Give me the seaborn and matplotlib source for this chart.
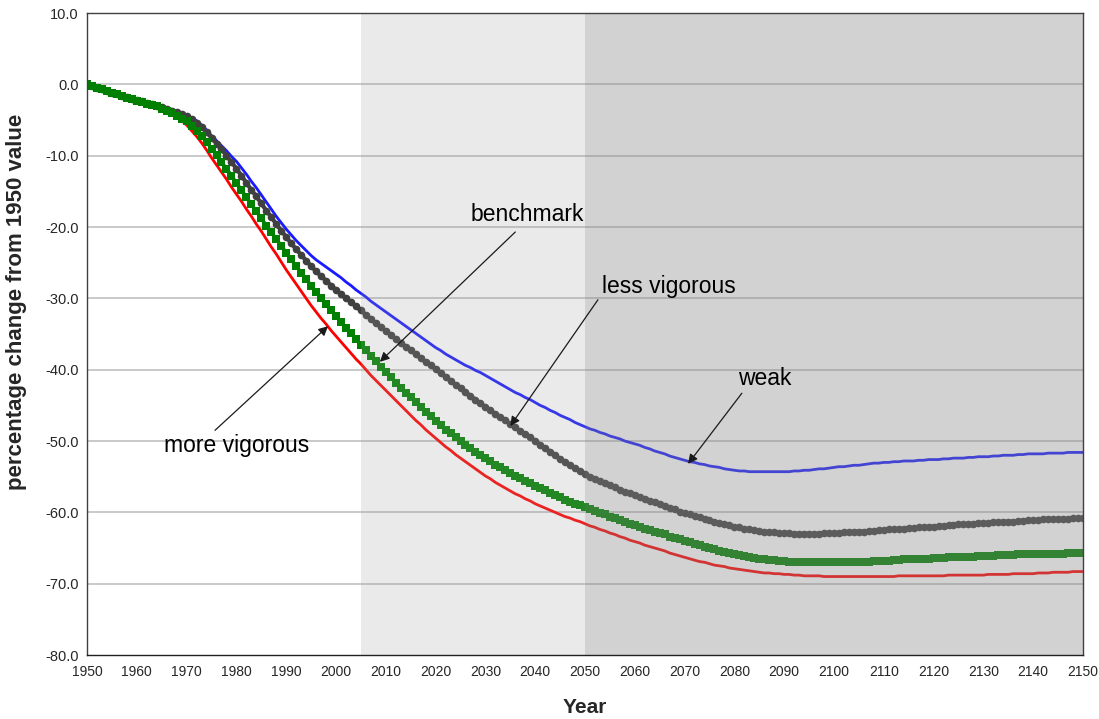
import numpy as np
import pandas as pd
import matplotlib
matplotlib.use('Agg')
import matplotlib.pyplot as plt
import seaborn as sns

# years 1950..2150, one value per year
years = list(range(1950, 2151))

# percentage change from 1950 value
more_vigorous = [
    0.0, -0.2, -0.5, -0.7, -1.0, -1.2, -1.4, -1.6, -1.9, -2.1,
    -2.3, -2.5, -2.7, -2.9, -3.2, -3.5, -3.8, -4.2, -4.6, -5.1,
    -5.7, -6.5, -7.3, -8.2, -9.2, -10.3, -11.3, -12.3, -13.3, -14.4,
    -15.4, -16.4, -17.5, -18.5, -19.6, -20.6, -21.7, -22.8, -23.8, -24.9,
    -26.0, -27.0, -28.0, -29.0, -30.0, -31.0, -31.9, -32.8, -33.6, -34.5,
    -35.3, -36.1, -36.9, -37.7, -38.5, -39.2, -40.0, -40.8, -41.5, -42.2,
    -42.9, -43.6, -44.3, -45.0, -45.7, -46.4, -47.1, -47.7, -48.4, -49.0,
    -49.6, -50.2, -50.8, -51.3, -51.9, -52.4, -52.9, -53.4, -53.9, -54.4,
    -54.9, -55.3, -55.8, -56.2, -56.6, -57.0, -57.4, -57.7, -58.1, -58.4,
    -58.8, -59.1, -59.4, -59.7, -60.0, -60.3, -60.6, -60.8, -61.1, -61.3,
    -61.6, -61.9, -62.1, -62.4, -62.6, -62.9, -63.1, -63.4, -63.6, -63.9,
    -64.1, -64.3, -64.6, -64.8, -65.0, -65.2, -65.4, -65.7, -65.9, -66.1,
    -66.3, -66.5, -66.7, -66.9, -67.0, -67.2, -67.4, -67.5, -67.6, -67.8,
    -67.9, -68.0, -68.1, -68.2, -68.3, -68.4, -68.5, -68.5, -68.6, -68.6,
    -68.7, -68.7, -68.8, -68.8, -68.9, -68.9, -68.9, -68.9, -69.0, -69.0,
    -69.0, -69.0, -69.0, -69.0, -69.0, -69.0, -69.0, -69.0, -69.0, -69.0,
    -69.0, -69.0, -69.0, -68.9, -68.9, -68.9, -68.9, -68.9, -68.9, -68.9,
    -68.9, -68.9, -68.9, -68.8, -68.8, -68.8, -68.8, -68.8, -68.8, -68.8,
    -68.8, -68.7, -68.7, -68.7, -68.7, -68.7, -68.6, -68.6, -68.6, -68.6,
    -68.6, -68.5, -68.5, -68.5, -68.4, -68.4, -68.4, -68.4, -68.3, -68.3,
    -68.3,
]

benchmark = [
    0.0, -0.2, -0.5, -0.7, -1.0, -1.2, -1.4, -1.6, -1.9, -2.1,
    -2.3, -2.5, -2.7, -2.9, -3.1, -3.4, -3.7, -4.0, -4.4, -4.8,
    -5.2, -5.8, -6.5, -7.3, -8.1, -9.0, -9.9, -10.9, -11.8, -12.8,
    -13.8, -14.8, -15.8, -16.8, -17.8, -18.8, -19.8, -20.7, -21.7, -22.6,
    -23.6, -24.5, -25.5, -26.4, -27.3, -28.2, -29.1, -29.9, -30.8, -31.6,
    -32.5, -33.3, -34.1, -34.9, -35.7, -36.5, -37.3, -38.1, -38.8, -39.6,
    -40.3, -41.0, -41.8, -42.5, -43.2, -43.9, -44.6, -45.2, -45.9, -46.5,
    -47.2, -47.8, -48.4, -48.9, -49.5, -50.0, -50.5, -51.0, -51.5, -51.9,
    -52.4, -52.8, -53.3, -53.7, -54.1, -54.5, -54.9, -55.2, -55.6, -55.9,
    -56.3, -56.6, -56.9, -57.3, -57.6, -57.9, -58.2, -58.5, -58.8, -59.0,
    -59.3, -59.6, -59.8, -60.1, -60.3, -60.6, -60.8, -61.1, -61.3, -61.6,
    -61.8, -62.0, -62.3, -62.5, -62.7, -62.9, -63.1, -63.4, -63.6, -63.8,
    -64.0, -64.2, -64.4, -64.6, -64.8, -65.0, -65.2, -65.4, -65.6, -65.7,
    -65.9, -66.0, -66.1, -66.3, -66.4, -66.5, -66.6, -66.7, -66.7, -66.8,
    -66.8, -66.9, -66.9, -66.9, -67.0, -67.0, -67.0, -67.0, -67.0, -67.0,
    -67.0, -67.0, -67.0, -66.9, -66.9, -66.9, -66.9, -66.9, -66.8, -66.8,
    -66.8, -66.8, -66.7, -66.7, -66.6, -66.6, -66.6, -66.5, -66.5, -66.5,
    -66.4, -66.4, -66.4, -66.3, -66.3, -66.3, -66.2, -66.2, -66.2, -66.1,
    -66.1, -66.1, -66.1, -66.0, -66.0, -66.0, -66.0, -65.9, -65.9, -65.9,
    -65.9, -65.9, -65.8, -65.8, -65.8, -65.8, -65.8, -65.7, -65.7, -65.7,
    -65.7,
]

less_vigorous = [
    0.0, -0.2, -0.5, -0.7, -1.0, -1.2, -1.4, -1.6, -1.8, -2.0,
    -2.2, -2.4, -2.6, -2.8, -3.0, -3.2, -3.4, -3.7, -3.9, -4.2,
    -4.5, -4.9, -5.4, -6.0, -6.7, -7.5, -8.3, -9.1, -10.0, -10.9,
    -11.8, -12.8, -13.8, -14.8, -15.7, -16.7, -17.7, -18.6, -19.6, -20.5,
    -21.4, -22.3, -23.1, -23.9, -24.7, -25.5, -26.2, -26.9, -27.5, -28.2,
    -28.8, -29.4, -30.0, -30.5, -31.1, -31.7, -32.3, -32.9, -33.5, -34.0,
    -34.6, -35.1, -35.7, -36.2, -36.8, -37.3, -37.8, -38.4, -38.9, -39.4,
    -39.9, -40.5, -41.0, -41.6, -42.1, -42.6, -43.1, -43.7, -44.2, -44.7,
    -45.2, -45.7, -46.2, -46.6, -47.1, -47.6, -48.1, -48.6, -49.0, -49.5,
    -50.0, -50.5, -51.0, -51.5, -52.0, -52.5, -52.9, -53.4, -53.8, -54.2,
    -54.6, -55.0, -55.3, -55.6, -55.9, -56.2, -56.5, -56.8, -57.1, -57.3,
    -57.6, -57.9, -58.1, -58.4, -58.6, -58.9, -59.1, -59.4, -59.6, -59.9,
    -60.1, -60.3, -60.5, -60.7, -60.9, -61.1, -61.3, -61.5, -61.7, -61.8,
    -62.0, -62.1, -62.3, -62.4, -62.5, -62.6, -62.7, -62.8, -62.8, -62.9,
    -62.9, -62.9, -63.0, -63.0, -63.0, -63.0, -63.0, -63.0, -62.9, -62.9,
    -62.9, -62.9, -62.8, -62.8, -62.7, -62.7, -62.7, -62.6, -62.6, -62.5,
    -62.5, -62.4, -62.4, -62.3, -62.3, -62.2, -62.2, -62.1, -62.1, -62.0,
    -62.0, -61.9, -61.9, -61.8, -61.8, -61.7, -61.7, -61.6, -61.6, -61.5,
    -61.5, -61.5, -61.4, -61.4, -61.3, -61.3, -61.3, -61.2, -61.2, -61.1,
    -61.1, -61.1, -61.0, -61.0, -61.0, -60.9, -60.9, -60.9, -60.8, -60.8,
    -60.8,
]

weak = [
    0.0, -0.2, -0.5, -0.7, -1.0, -1.2, -1.4, -1.6, -1.8, -2.0,
    -2.2, -2.4, -2.6, -2.7, -2.9, -3.1, -3.3, -3.5, -3.8, -4.0,
    -4.3, -4.7, -5.1, -5.7, -6.4, -7.2, -7.9, -8.6, -9.3, -10.1,
    -10.8, -11.7, -12.6, -13.6, -14.5, -15.5, -16.5, -17.5, -18.5, -19.4,
    -20.3, -21.1, -21.9, -22.6, -23.3, -24.0, -24.6, -25.1, -25.6, -26.1,
    -26.6, -27.1, -27.7, -28.2, -28.8, -29.3, -29.8, -30.4, -30.9, -31.4,
    -31.9, -32.4, -32.9, -33.4, -33.9, -34.4, -34.9, -35.4, -35.9, -36.4,
    -36.9, -37.3, -37.8, -38.2, -38.6, -39.0, -39.4, -39.7, -40.1, -40.4,
    -40.8, -41.2, -41.6, -42.0, -42.4, -42.8, -43.2, -43.5, -43.9, -44.2,
    -44.6, -45.0, -45.3, -45.7, -46.0, -46.4, -46.7, -47.0, -47.4, -47.7,
    -48.0, -48.3, -48.5, -48.8, -49.0, -49.3, -49.5, -49.7, -50.0, -50.2,
    -50.4, -50.6, -50.9, -51.1, -51.4, -51.6, -51.8, -52.1, -52.3, -52.5,
    -52.7, -52.9, -53.0, -53.2, -53.3, -53.5, -53.6, -53.7, -53.9, -54.0,
    -54.1, -54.2, -54.2, -54.3, -54.3, -54.3, -54.3, -54.3, -54.3, -54.3,
    -54.3, -54.3, -54.2, -54.2, -54.1, -54.1, -54.0, -53.9, -53.9, -53.8,
    -53.7, -53.6, -53.6, -53.5, -53.4, -53.4, -53.3, -53.2, -53.1, -53.1,
    -53.0, -53.0, -52.9, -52.9, -52.8, -52.8, -52.8, -52.7, -52.7, -52.6,
    -52.6, -52.6, -52.5, -52.5, -52.4, -52.4, -52.4, -52.3, -52.3, -52.2,
    -52.2, -52.2, -52.1, -52.1, -52.0, -52.0, -52.0, -51.9, -51.9, -51.8,
    -51.8, -51.8, -51.8, -51.7, -51.7, -51.7, -51.7, -51.6, -51.6, -51.6,
    -51.6,
]

y_ticks = [-80, -70, -60, -50, -40, -30, -20, -10, 0, 10]
x_major = list(range(1950, 2151, 10))
x_minor = list(range(1950, 2151, 5))

sns.set_style('white')
plt.rcParams['font.family'] = ['Liberation Sans', 'DejaVu Sans']
plt.rcParams['axes.unicode_minus'] = False

fig = plt.figure(figsize=(10.99, 7.19), dpi=100)
ax = fig.add_axes([0.0792, 0.089, 0.9062, 0.8929])

# horizontal grid
for yv in y_ticks[1:-1]:
    ax.axhline(yv, color='#c0c0c0', lw=1.2, zorder=1)

# series (drawing order: green on top)
sns.lineplot(x=years, y=more_vigorous, ax=ax, color='#ff0000', lw=2, zorder=3)
sns.lineplot(x=years, y=weak, ax=ax, color='#1a1aff', lw=2, zorder=3)
sns.lineplot(x=years, y=less_vigorous, ax=ax, color='#404040', lw=3,
             marker='o', markersize=5.5, markeredgewidth=0, zorder=4)
sns.lineplot(x=years, y=benchmark, ax=ax, color='#008000', lw=2.5,
             marker='s', markersize=5.5, markeredgewidth=0, zorder=5)

# projection periods, grey wash over the lines
ax.axvspan(2005, 2050, color='#a0a0a0', alpha=0.22, lw=0, zorder=6)
ax.axvspan(2050, 2150, color='#8a8a8a', alpha=0.38, lw=0, zorder=6)

# labels with arrows
arrow = dict(arrowstyle='-|>', color='#1a1a1a', lw=0.9, mutation_scale=14,
             shrinkA=0, shrinkB=0)
tkw = dict(fontsize=16.5, color='black', zorder=8)
ax.annotate('', xy=(2008.8, -38.9), xytext=(2036.0, -20.7), arrowprops=arrow, zorder=8)
ax.text(2038.4, -18.3, 'benchmark', ha='center', va='center', **tkw)
ax.annotate('', xy=(2035.0, -47.9), xytext=(2052.6, -30.2), arrowprops=arrow, zorder=8)
ax.text(2053.4, -28.4, 'less vigorous', ha='left', va='center', **tkw)
ax.annotate('', xy=(2070.7, -53.2), xytext=(2081.5, -43.3), arrowprops=arrow, zorder=8)
ax.text(2086.1, -41.2, 'weak', ha='center', va='center', **tkw)
ax.annotate('', xy=(1998.4, -33.9), xytext=(1975.7, -48.5), arrowprops=arrow, zorder=8)
ax.text(1980.1, -50.6, 'more vigorous', ha='center', va='center', **tkw)

ax.set_xlim(1950, 2150)
ax.set_ylim(-80, 10)
ax.set_xticks(x_major)
ax.set_xticks(x_minor, minor=True)
ax.set_yticks(y_ticks)
ax.set_yticklabels([f'{v:.1f}' for v in y_ticks])
ax.tick_params(axis='x', which='both', direction='out', length=4, width=1,
               color='#303030', labelsize=10, pad=3)
ax.tick_params(axis='y', length=0, labelsize=10.5, pad=6)

for s in ax.spines.values():
    s.set_visible(True)
    s.set_color('#404040')
    s.set_linewidth(1)
    s.set_zorder(9)
ax.spines['bottom'].set_color('#202020')

ax.set_xlabel('Year', fontsize=15, fontweight='bold', labelpad=14)
ax.set_ylabel('percentage change from 1950 value', fontsize=16,
              fontweight='bold')
ax.yaxis.set_label_coords(-0.060, 0.55)

fig.savefig('out.png', dpi=100)
